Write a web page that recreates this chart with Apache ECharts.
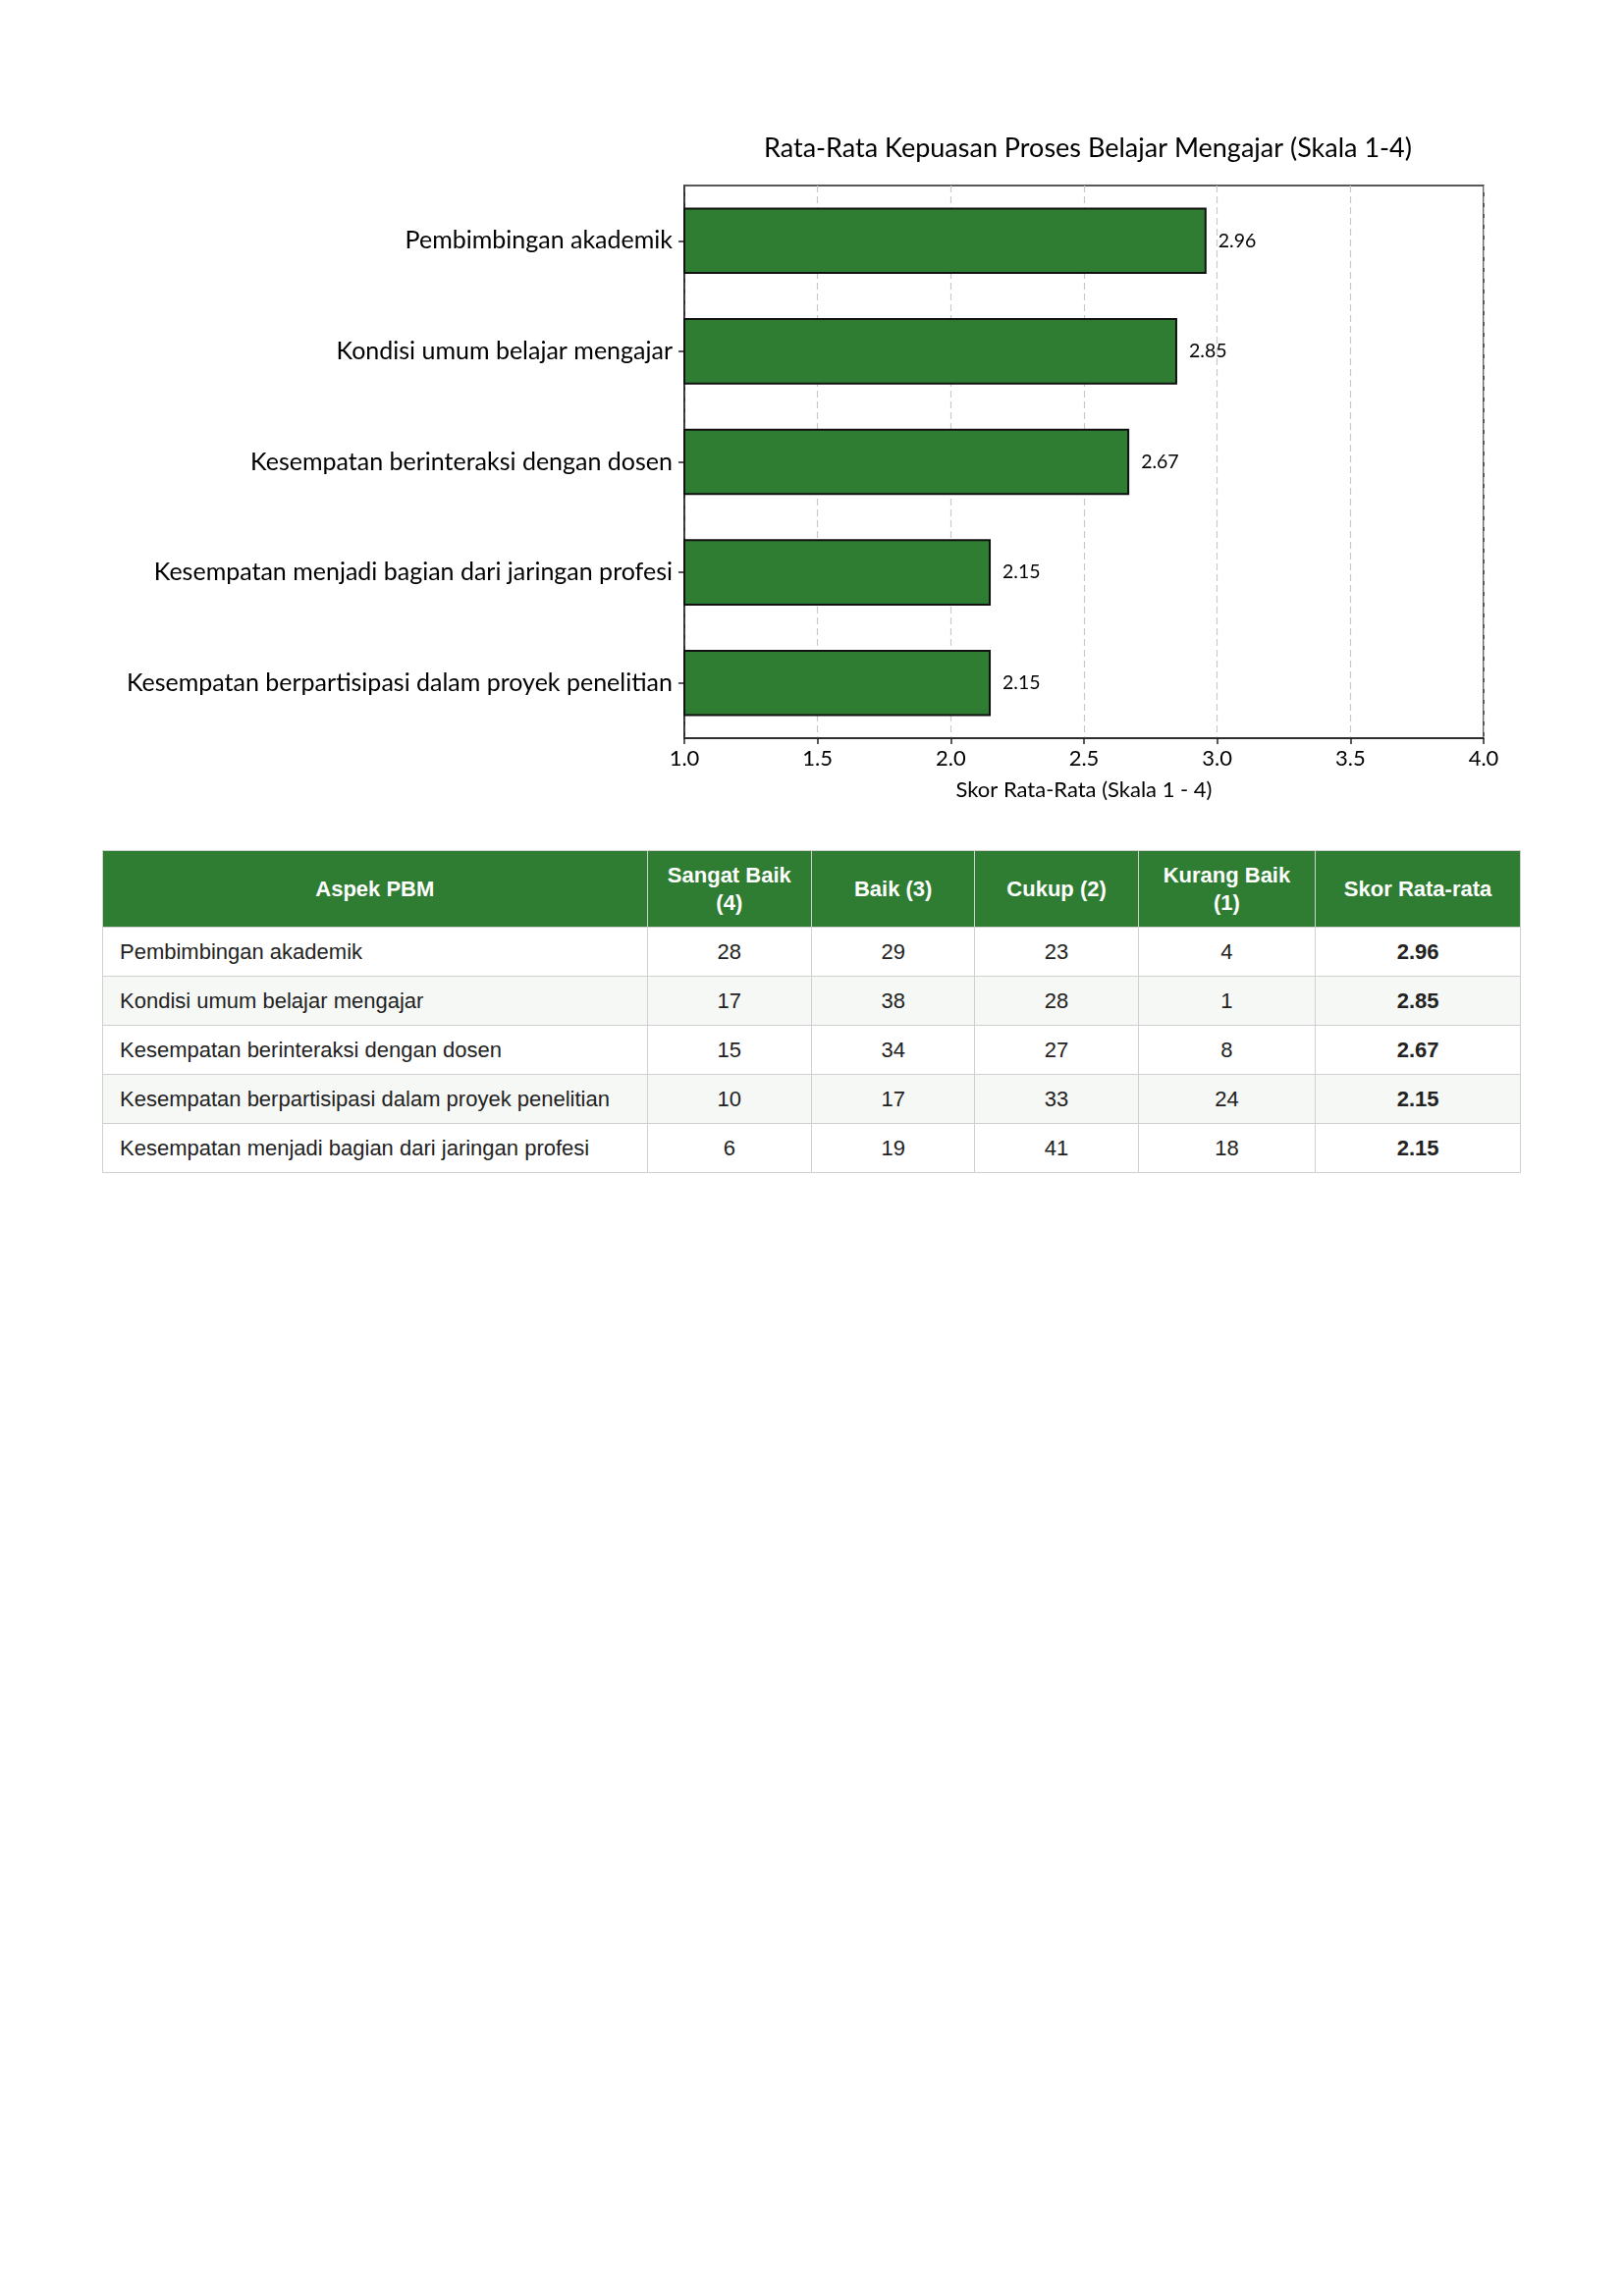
<!DOCTYPE html>
<html>
<head>
<meta charset="utf-8">
<script src="https://cdn.jsdelivr.net/npm/echarts@6/dist/echarts.min.js"></script>
<style>
  html, body { margin: 0; padding: 0; background: #fff; }
  body { width: 1654px; height: 2339px; position: relative; overflow: hidden; }
  #chart { position: absolute; left: 0; top: 0; width: 1654px; height: 860px; }
  #tbl { position: absolute; left: 104px; top: 866px; width: 1445px; border-collapse: collapse; table-layout: fixed;
         font-family: "Liberation Sans", Arial, sans-serif; font-size: 22px; color: #222; }
  #tbl th { background: #2e7d32; color: #fff; font-weight: bold; height: 78px; line-height: 28px; padding: 0 12px;
            border: 1.5px solid #d0d0d0; text-align: center; box-sizing: border-box; }
  #tbl td { height: 50px; padding: 0 16px; border: 1.5px solid #d0d0d0; text-align: center; box-sizing: border-box; }
  #tbl td.first { text-align: left; padding-left: 17px; }
  #tbl td.bold { font-weight: bold; }
  #tbl tr.alt td { background: #f6f8f6; }
</style>
</head>
<body>
<div id="chart"></div>
<table id="tbl"></table>
<script>
// ---- Data ----
const categories = [
  "Pembimbingan akademik",
  "Kondisi umum belajar mengajar",
  "Kesempatan berinteraksi dengan dosen",
  "Kesempatan menjadi bagian dari jaringan profesi",
  "Kesempatan berpartisipasi dalam proyek penelitian"
];
const scores = [2.96, 2.85, 2.67, 2.15, 2.15];
const xTicks = [1.0, 1.5, 2.0, 2.5, 3.0, 3.5, 4.0];

const tableHeaders = ["Aspek PBM", "Sangat Baik (4)", "Baik (3)", "Cukup (2)", "Kurang Baik (1)", "Skor Rata-rata"];
const tableAspects = [
  "Pembimbingan akademik",
  "Kondisi umum belajar mengajar",
  "Kesempatan berinteraksi dengan dosen",
  "Kesempatan berpartisipasi dalam proyek penelitian",
  "Kesempatan menjadi bagian dari jaringan profesi"
];
const sangatBaik = [28, 17, 15, 10, 6];
const baik = [29, 38, 34, 17, 19];
const cukup = [23, 28, 27, 33, 41];
const kurangBaik = [4, 1, 8, 24, 18];
const skorRata = ["2.96", "2.85", "2.67", "2.15", "2.15"];
const colWidths = [555, 167.5, 166.5, 166.5, 180.5, 209];

// ---- Chart ----
const chart = echarts.init(document.getElementById('chart'), null, { renderer: 'canvas' });
const FONT = 'Lato';
chart.setOption({
  animation: false,
  title: {
    text: 'Rata-Rata Kepuasan Proses Belajar Mengajar (Skala 1-4)',
    left: 1103,
    top: 133,
    textAlign: 'center',
    textStyle: { fontFamily: FONT, fontSize: 27, fontWeight: 'normal', color: '#000' }
  },
  grid: {
    left: 697, right: 143, top: 189, height: 563,
    show: true, borderColor: '#222', borderWidth: 1.5, backgroundColor: 'transparent'
  },
  xAxis: {
    type: 'value',
    min: xTicks[0], max: xTicks[xTicks.length - 1], interval: 0.5,
    name: 'Skor Rata-Rata (Skala 1 - 4)',
    nameLocation: 'middle', nameGap: 42,
    nameTextStyle: { fontFamily: FONT, fontSize: 22, color: '#000' },
    axisLine: { show: true, lineStyle: { color: '#222', width: 1.5 } },
    axisTick: { show: true, length: 6, lineStyle: { color: '#222', width: 1.5 } },
    axisLabel: { fontFamily: FONT, fontSize: 22, color: '#000', margin: 10,
                 formatter: v => v.toFixed(1) },
    splitLine: { show: true, lineStyle: { color: '#c8c8c8', type: [7, 4], width: 1.2 } }
  },
  yAxis: {
    type: 'category',
    data: categories,
    inverse: true,
    axisLine: { show: true, lineStyle: { color: '#222', width: 1.5 } },
    axisTick: { show: true, alignWithLabel: true, length: 6, lineStyle: { color: '#222', width: 1.5 } },
    axisLabel: { fontFamily: FONT, fontSize: 25, color: '#000', margin: 12 },
    splitLine: { show: false }
  },
  series: [{
    type: 'bar',
    data: scores,
    barWidth: '60%',
    itemStyle: { color: '#2e7d32', borderColor: '#111', borderWidth: 2 },
    label: {
      show: true, position: 'right', distance: 12,
      fontFamily: FONT, fontSize: 19.5, color: '#000',
      formatter: p => p.value.toFixed(2)
    }
  }]
});

// ---- Table ----
const tbl = document.getElementById('tbl');
const totalW = colWidths.reduce((a, b) => a + b, 0);
let html = '<colgroup>' + colWidths.map(w => '<col style="width:' + (100 * w / totalW).toFixed(3) + '%">').join('') + '</colgroup>';
html += '<tr>' + tableHeaders.map(h => '<th>' + h + '</th>').join('') + '</tr>';
for (let i = 0; i < tableAspects.length; i++) {
  html += '<tr' + (i % 2 === 1 ? ' class="alt"' : '') + '>' +
    '<td class="first">' + tableAspects[i] + '</td>' +
    '<td>' + sangatBaik[i] + '</td>' +
    '<td>' + baik[i] + '</td>' +
    '<td>' + cukup[i] + '</td>' +
    '<td>' + kurangBaik[i] + '</td>' +
    '<td class="bold">' + skorRata[i] + '</td></tr>';
}
tbl.innerHTML = html;
</script>
</body>
</html>
